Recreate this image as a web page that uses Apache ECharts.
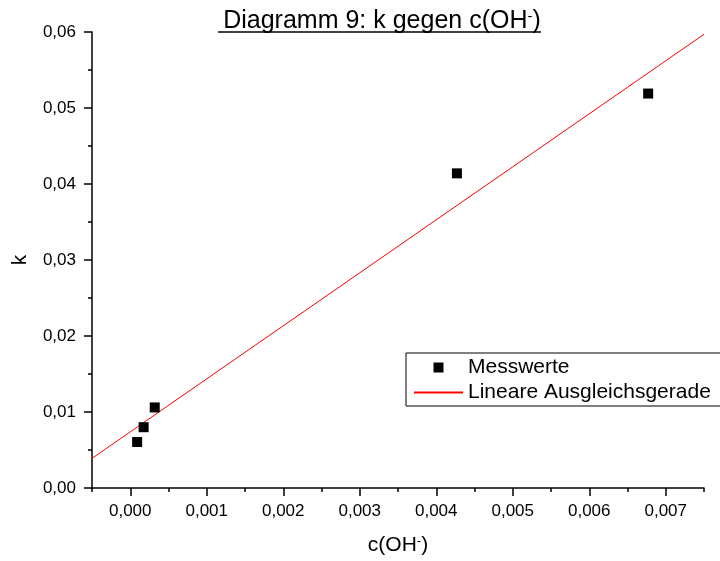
<!DOCTYPE html>
<html>
<head>
<meta charset="utf-8">
<script src="https://cdn.jsdelivr.net/npm/echarts@6/dist/echarts.min.js"></script>
<style>
  html, body { margin: 0; padding: 0; background: #fff; }
  #chart { width: 720px; height: 561px; }
</style>
</head>
<body>
<div id="chart"></div>
<script>
  // Messwerte: c(OH-) und k
  const cOH = [0.00009, 0.000175, 0.00032, 0.00427, 0.00677];
  const kValues = [0.00605, 0.0080, 0.0106, 0.0414, 0.0519];

  // Ausgleichsgerade (Endpunkte am Rand des Diagramms)
  const fitX = [-0.0005, 0.0075];
  const fitK = [0.0039, 0.0597];

  // Achsen
  const xMajorTicks = [0, 0.001, 0.002, 0.003, 0.004, 0.005, 0.006, 0.007];
  const xMinorTicks = [-0.0005, 0.0005, 0.0015, 0.0025, 0.0035, 0.0045, 0.0055, 0.0065, 0.0075];

  const font = 'Liberation Sans, Arial, sans-serif';
  const black = '#000';

  const option = {
    animation: false,
    backgroundColor: '#fff',
    title: {
      text: 'Diagramm 9: k gegen c(OH{s|-})',
      left: 377,
      top: 4,
      textAlign: 'center',
      textStyle: {
        fontFamily: font,
        fontSize: 25,
        fontWeight: 'normal',
        color: black,
        rich: {
          s: { fontSize: 15, verticalAlign: 'top', fontFamily: font, color: black }
        }
      }
    },
    // Unterstreichung des Titels
    graphic: [{
      type: 'line',
      shape: { x1: 218, y1: 32, x2: 541, y2: 32 },
      style: { stroke: black, lineWidth: 1.5 },
      z: 10
    }],
    legend: {
      orient: 'vertical',
      left: 406,
      top: 353,
      padding: [4, 10, 3, 7],
      itemGap: 4,
      itemWidth: 49,
      itemHeight: 10,
      symbolKeepAspect: true,
      borderColor: black,
      borderWidth: 1,
      borderRadius: 0,
      backgroundColor: '#fff',
      textStyle: { fontFamily: font, fontSize: 21, color: black },
      data: [
        { name: 'Messwerte', icon: 'path://M0,0L10,0L10,10L0,10Z' },
        { name: 'Lineare Ausgleichsgerade', itemStyle: { opacity: 0 } }
      ]
    },
    grid: {
      left: 92,
      right: 16,
      top: 32,
      bottom: 73,
      containLabel: false
    },
    xAxis: [
      {
        type: 'value',
        min: -0.0005,
        max: 0.0075,
        position: 'bottom',
        name: 'c(OH{s|-})',
        nameLocation: 'middle',
        nameGap: 47,
        nameTextStyle: {
          fontFamily: font,
          fontSize: 21,
          color: black,
          rich: {
            s: { fontSize: 13, verticalAlign: 'top', fontFamily: font, color: black }
          }
        },
        splitLine: { show: false },
        axisLine: { onZero: false, lineStyle: { color: black, width: 1.5 } },
        axisTick: {
          inside: false,
          length: 8,
          customValues: xMajorTicks,
          lineStyle: { color: black, width: 1.5 }
        },
        axisLabel: {
          customValues: xMajorTicks,
          margin: 15,
          fontFamily: font,
          fontSize: 17,
          color: black,
          formatter: function (v) { return v.toFixed(3).replace('.', ','); }
        }
      },
      {
        // nur die kleinen Zwischenstriche
        type: 'value',
        min: -0.0005,
        max: 0.0075,
        position: 'bottom',
        offset: 0,
        splitLine: { show: false },
        axisLine: { show: false, onZero: false },
        axisLabel: { show: false },
        axisTick: {
          inside: false,
          length: 4,
          customValues: xMinorTicks,
          lineStyle: { color: black, width: 1.5 }
        }
      }
    ],
    yAxis: {
      type: 'value',
      min: 0,
      max: 0.06,
      interval: 0.01,
      name: 'k',
      nameLocation: 'middle',
      nameGap: 61,
      nameTextStyle: { fontFamily: font, fontSize: 21, color: black },
      splitLine: { show: false },
      axisLine: { show: true, onZero: false, lineStyle: { color: black, width: 1.5 } },
      axisTick: { show: true, inside: false, length: 8, lineStyle: { color: black, width: 1.5 } },
      minorTick: { show: true, splitNumber: 2, length: 4, lineStyle: { color: black, width: 1.5 } },
      axisLabel: {
        margin: 16,
        fontFamily: font,
        fontSize: 17,
        color: black,
        formatter: function (v) { return v.toFixed(2).replace('.', ','); }
      }
    },
    series: [
      {
        name: 'Messwerte',
        type: 'scatter',
        xAxisIndex: 0,
        symbol: 'rect',
        symbolSize: 10,
        itemStyle: { color: black, opacity: 1 },
        data: cOH.map(function (x, i) { return [x, kValues[i]]; }),
        z: 3
      },
      {
        name: 'Lineare Ausgleichsgerade',
        type: 'line',
        xAxisIndex: 0,
        symbol: 'none',
        lineStyle: { color: '#ff0000', width: 1 },
        itemStyle: { color: '#ff0000' },
        data: fitX.map(function (x, i) { return [x, fitK[i]]; }),
        z: 2
      }
    ]
  };

  const myChart = echarts.init(document.getElementById('chart'));
  myChart.setOption(option);
</script>
</body>
</html>
